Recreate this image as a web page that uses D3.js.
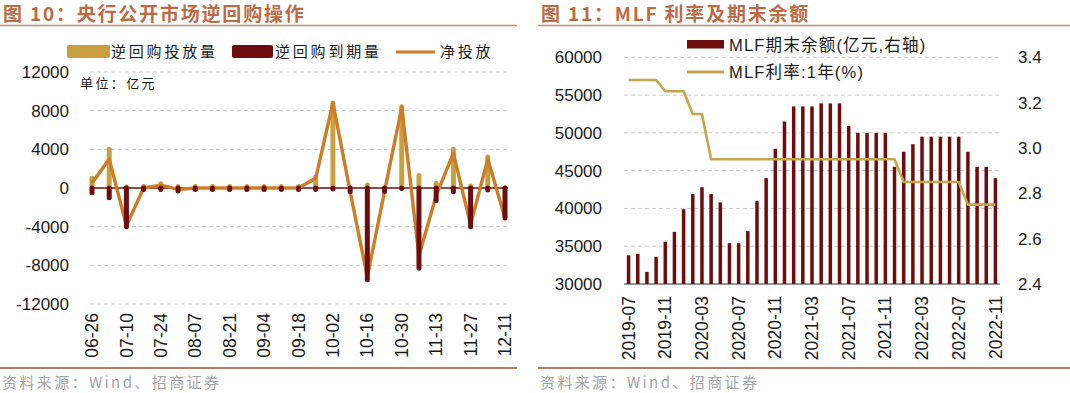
<!DOCTYPE html>
<html><head><meta charset="utf-8">
<script src="https://cdn.jsdelivr.net/npm/d3@7"></script>
<style>
html,body{margin:0;padding:0;background:#fff;}
svg{display:block;}
.lat{font-family:"Liberation Sans",Arial,"Noto Sans CJK SC",sans-serif;}
.cjk{font-family:"Noto Sans CJK SC","Liberation Sans",sans-serif;}
</style></head>
<body>
<svg id="c" width="1070" height="393"></svg>
<script>
// ---------- Left chart data (亿元) ----------
const weeks = ["06-26","07-03","07-10","07-17","07-24","07-31","08-07","08-14","08-21","08-28","09-04","09-11","09-18","09-25","10-02","10-09","10-16","10-23","10-30","11-06","11-13","11-20","11-27","12-04","12-11"];
const weekTicks = ["06-26","07-10","07-24","08-07","08-21","09-04","09-18","10-02","10-16","10-30","11-13","11-27","12-11"];
const injection = [1000,4000,100,150,450,150,150,150,150,150,150,150,150,1150,8800,0,300,0,8400,1300,500,4000,200,3200,0];
const maturity  = [-500,-1000,-4000,-150,-150,-300,-150,-150,-150,-150,-150,-150,-150,-150,-100,-350,-9500,-350,-50,-8300,-1300,-400,-4000,-200,-3100];
const netInjection = [500,3000,-3900,0,300,-150,0,0,0,0,0,0,0,1000,8800,-350,-9200,-350,8350,-7000,-800,3600,-3800,3000,-3100];
const leftTicks = [12000,8000,4000,0,-4000,-8000,-12000];

// ---------- Right chart data ----------
const months = ["2019-07","2019-08","2019-09","2019-10","2019-11","2019-12","2020-01","2020-02","2020-03","2020-04","2020-05","2020-06","2020-07","2020-08","2020-09","2020-10","2020-11","2020-12","2021-01","2021-02","2021-03","2021-04","2021-05","2021-06","2021-07","2021-08","2021-09","2021-10","2021-11","2021-12","2022-01","2022-02","2022-03","2022-04","2022-05","2022-06","2022-07","2022-08","2022-09","2022-10","2022-11"];
const monthTicks = ["2019-07","2019-11","2020-03","2020-07","2020-11","2021-03","2021-07","2021-11","2022-03","2022-07","2022-11"];
const mlfBalance = [33800,34000,31600,33600,35600,36900,39900,41900,42800,41900,40800,35400,35400,37000,41000,44000,47900,51500,53500,53500,53500,53900,53900,53900,50900,50000,50000,50000,50000,45500,47500,48500,49500,49500,49500,49500,49500,47500,45500,45500,44000];
const mlfRate = [3.30,3.30,3.30,3.30,3.25,3.25,3.25,3.15,3.15,2.95,2.95,2.95,2.95,2.95,2.95,2.95,2.95,2.95,2.95,2.95,2.95,2.95,2.95,2.95,2.95,2.95,2.95,2.95,2.95,2.95,2.85,2.85,2.85,2.85,2.85,2.85,2.85,2.75,2.75,2.75,2.75];
const rightTicksL = [60000,55000,50000,45000,40000,35000,30000];
const rightTicksR = [3.4,3.2,3.0,2.8,2.6,2.4];

// ---------- styles ----------
const GOLD = "#C9A040", MAROON = "#6E0D0D", ORANGE = "#CD7D28", RATE = "#C6A64C";
const TITLE = "#BE6A45", RULE1 = "#C68A6C", RULE2 = "#B87A60", GRID = "#C8C8C8", TXT = "#1a1a1a";

const svg = d3.select("#c");

// titles, rules, footers
function frame(x0, x1, title) {
  svg.append("text").attr("class","cjk").attr("x", x0 + 3).attr("y", 20.5)
    .attr("font-size", 19).attr("font-weight", "bold").attr("fill", TITLE)
    .attr("letter-spacing", 1.8).text(title);
  svg.append("line").attr("x1", x0).attr("x2", x1).attr("y1", 25.5).attr("y2", 25.5)
    .attr("stroke", RULE1).attr("stroke-width", 1.5);
  svg.append("line").attr("x1", x0).attr("x2", x1).attr("y1", 368).attr("y2", 368)
    .attr("stroke", RULE2).attr("stroke-width", 2);
  svg.append("text").attr("class","cjk").attr("x", x0 + 2).attr("y", 388)
    .attr("font-size", 15).attr("fill", "#A3A3A3").attr("letter-spacing", 2.4)
    .text("资料来源：Wind、招商证券");
}
frame(0, 517, "图 10：央行公开市场逆回购操作");
frame(538, 1070, "图 11：MLF 利率及期末余额");

// ================= LEFT CHART =================
const xL = d3.scalePoint().domain(weeks).range([92, 505]);
const yL = d3.scaleLinear().domain([-12000, 12000]).range([304, 72]);

const gL = svg.append("g");
gL.selectAll("line.grid").data(leftTicks.filter(d => d !== 0)).join("line")
  .attr("x1", 90).attr("x2", 508).attr("y1", d => yL(d)).attr("y2", d => yL(d))
  .attr("stroke", GRID).attr("stroke-dasharray", "4,3");

gL.selectAll("text.yt").data(leftTicks).join("text").attr("class","lat")
  .attr("x", 69).attr("y", d => yL(d)).attr("dy", "0.35em").attr("text-anchor", "end")
  .attr("font-size", 17).attr("fill", TXT).text(d => d);

gL.selectAll("text.xt").data(weekTicks).join("text").attr("class","lat")
  .attr("transform", d => `translate(${xL(d)},313) rotate(-90)`)
  .attr("dy", "0.35em").attr("text-anchor", "end")
  .attr("font-size", 17.5).attr("fill", TXT).text(d => d);

gL.selectAll("line.inj").data(weeks).join("line")
  .attr("x1", d => xL(d)).attr("x2", d => xL(d))
  .attr("y1", yL(0)).attr("y2", (d, i) => yL(injection[i]))
  .attr("stroke", GOLD).attr("stroke-width", 5).attr("stroke-linecap", "round");

gL.append("line").attr("x1", 90).attr("x2", 508).attr("y1", yL(0)).attr("y2", yL(0))
  .attr("stroke", MAROON).attr("stroke-width", 1.3);

gL.append("path").datum(netInjection)
  .attr("d", d3.line().x((d, i) => xL(weeks[i])).y(d => yL(d)))
  .attr("fill", "none").attr("stroke", ORANGE).attr("stroke-width", 3.4).attr("stroke-linejoin", "round");

gL.selectAll("line.mat").data(weeks).join("line")
  .attr("x1", d => xL(d)).attr("x2", d => xL(d))
  .attr("y1", yL(0)).attr("y2", (d, i) => yL(maturity[i]))
  .attr("stroke", MAROON).attr("stroke-width", 5).attr("stroke-linecap", "round");

// legend
gL.append("rect").attr("x", 67).attr("y", 45).attr("width", 43).attr("height", 13).attr("rx", 2).attr("fill", GOLD);
gL.append("text").attr("class","cjk").attr("x", 111).attr("y", 52).attr("dy","0.35em").attr("font-size", 15).attr("letter-spacing", 2.8).attr("fill", TXT).text("逆回购投放量");
gL.append("rect").attr("x", 232).attr("y", 45).attr("width", 41).attr("height", 13).attr("rx", 2).attr("fill", MAROON);
gL.append("text").attr("class","cjk").attr("x", 275).attr("y", 52).attr("dy","0.35em").attr("font-size", 15).attr("letter-spacing", 2.8).attr("fill", TXT).text("逆回购到期量");
gL.append("line").attr("x1", 396).attr("x2", 435).attr("y1", 52).attr("y2", 52).attr("stroke", ORANGE).attr("stroke-width", 3);
gL.append("text").attr("class","cjk").attr("x", 440).attr("y", 52).attr("dy","0.35em").attr("font-size", 15).attr("letter-spacing", 2.8).attr("fill", TXT).text("净投放");
gL.append("text").attr("class","cjk").attr("x", 80).attr("y", 83).attr("dy","0.35em").attr("font-size", 13).attr("letter-spacing", 2.4).attr("fill", TXT).text("单位：亿元");

// ================= RIGHT CHART =================
const xR = d3.scaleBand().domain(months).range([624, 1000]);
const yR = d3.scaleLinear().domain([30000, 60000]).range([284, 57.3]);
const yR2 = d3.scaleLinear().domain([2.4, 3.4]).range([284, 57.3]);
const cx = m => xR(m) + xR.bandwidth() / 2;

const gR = svg.append("g");
gR.selectAll("line.grid").data(rightTicksL.filter(d => d !== 30000)).join("line")
  .attr("x1", 624).attr("x2", 1000).attr("y1", d => yR(d)).attr("y2", d => yR(d))
  .attr("stroke", GRID).attr("stroke-dasharray", "4,3");

gR.selectAll("text.yl").data(rightTicksL).join("text").attr("class","lat")
  .attr("x", 602).attr("y", d => yR(d)).attr("dy", "0.35em").attr("text-anchor", "end")
  .attr("font-size", 17).attr("fill", TXT).text(d => d);

gR.selectAll("text.yr").data(rightTicksR).join("text").attr("class","lat")
  .attr("x", 1018).attr("y", d => yR2(d)).attr("dy", "0.35em").attr("text-anchor", "start")
  .attr("font-size", 17).attr("fill", TXT).text(d => d3.format(".1f")(d));

gR.selectAll("rect.bar").data(months).join("rect")
  .attr("x", d => cx(d) - 1.75).attr("width", 3.5)
  .attr("y", (d, i) => yR(mlfBalance[i])).attr("height", (d, i) => yR(30000) - yR(mlfBalance[i]))
  .attr("fill", MAROON);

gR.append("line").attr("x1", 624).attr("x2", 1000).attr("y1", 284).attr("y2", 284)
  .attr("stroke", "#333").attr("stroke-width", 1);

gR.append("path").datum(mlfRate)
  .attr("d", d3.line().x((d, i) => cx(months[i])).y(d => yR2(d)))
  .attr("fill", "none").attr("stroke", RATE).attr("stroke-width", 2.6).attr("stroke-linejoin", "round");

gR.selectAll("text.xt").data(monthTicks).join("text").attr("class","lat")
  .attr("transform", d => `translate(${cx(d)},296) rotate(-90)`)
  .attr("dy", "0.35em").attr("text-anchor", "end")
  .attr("font-size", 17.5).attr("fill", TXT).text(d => d);

// legend
gR.append("rect").attr("x", 687).attr("y", 40).attr("width", 37).attr("height", 8.5).attr("fill", MAROON);
gR.append("text").attr("class","lat").attr("x", 729).attr("y", 45).attr("dy","0.35em").attr("font-size", 16.5).attr("letter-spacing", 1.2).attr("fill", TXT).text("MLF期末余额(亿元,右轴)");
gR.append("line").attr("x1", 687).attr("x2", 724).attr("y1", 72).attr("y2", 72).attr("stroke", RATE).attr("stroke-width", 3);
gR.append("text").attr("class","lat").attr("x", 729).attr("y", 72).attr("dy","0.35em").attr("font-size", 16.5).attr("letter-spacing", 1.2).attr("fill", TXT).text("MLF利率:1年(%)");
</script>
</body></html>
